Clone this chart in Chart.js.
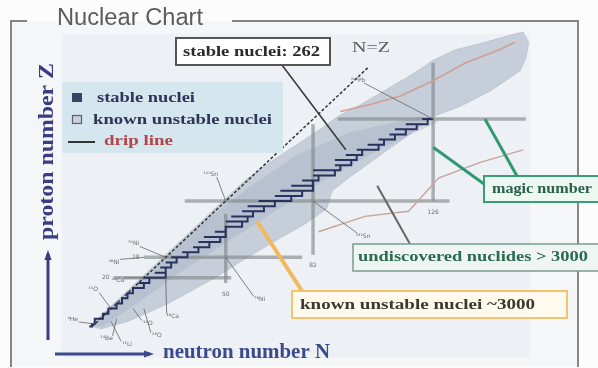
<!DOCTYPE html>
<html>
<head>
<meta charset="utf-8">
<script src="https://cdn.jsdelivr.net/npm/chart.js@4/dist/chart.umd.min.js"></script>
<style>
  html,body{margin:0;padding:0;background:#fff}
  #wrap{width:598px;height:368px}
</style>
</head>
<body>
<div id="wrap"><canvas id="chart" width="598" height="368"></canvas></div>
<script>
// outline of the known nuclei: proton-rich edge going up, then neutron-rich edge coming back (N, Z)
const knownN = [0, 9, 21, 33, 45, 57, 66, 76, 86, 91, 100, 108, 116, 122, 126, 134, 145, 155, 159,
                161, 160, 158, 147, 136, 126, 122, 116, 108, 95, 89, 87, 79, 69, 58, 46, 29, 14, 4];
const knownZ = [1, 10, 22, 34, 46, 58, 65, 72, 79, 83, 88, 93, 98, 102, 105, 109, 112, 115, 116,
                112, 106, 101, 93, 87, 83, 80, 75, 69, 59, 54, 47, 41, 35, 28, 20, 10, 3, 0];

// denser core of the band around the valley of stability
const coreN = [1, 20, 40, 58, 76, 96, 122, 128, 106, 86, 68, 52, 36, 20, 5];
const coreZ = [1, 20, 40, 55, 68, 77, 83, 81, 70, 58, 46, 35, 24, 12, 1];

// valley of stability: lightest and heaviest stable isotope for each Z
const stableZ    = [1, 2, 4, 6, 8, 10, 12, 14, 16, 18, 20, 22, 24, 26, 28, 30, 32, 34, 36, 38, 40, 42, 44, 46, 48, 50, 52, 54, 56, 58, 60, 62, 64, 66, 68, 70, 72, 74, 76, 78, 80, 82];
const stableNmin = [0, 1, 5, 6, 8, 10, 12, 14, 16, 18, 20, 24, 26, 28, 30, 34, 38, 40, 42, 46, 50, 50, 52, 56, 58, 62, 68, 70, 74, 78, 82, 82, 90, 90, 94, 98, 102, 106, 110, 112, 116, 122];
const stableNmax = [1, 2, 5, 7, 10, 12, 14, 16, 20, 22, 28, 28, 30, 32, 36, 40, 44, 48, 50, 50, 56, 58, 60, 64, 68, 74, 78, 82, 82, 84, 90, 92, 96, 98, 100, 106, 108, 112, 116, 120, 124, 126];
const stableCount = 262;

// magic numbers: vertical lines at N, horizontal lines at Z, with their extent
const magicN     = [50, 82, 126];
const magicNFrom = [18, 29, 50];
const magicNTo   = [45, 80, 104];
const magicZ     = [20, 28, 50, 82];
const magicZFrom = [9, 20, 35, 91];
const magicZTo   = [52, 78, 132, 160];

// drip lines
const pDripN = [92, 104, 114, 126, 138, 150, 156];
const pDripZ = [85, 88, 91, 97, 104, 109, 112];
const nDripN = [84, 101, 117, 128, 143, 159];
const nDripZ = [38, 44, 46, 59, 65, 70];

// N = Z reference line
const nzFrom = 1, nzTo = 102;

// a few landmark nuclides
const nuclideNames = ['⁴He', '¹¹Li', '¹⁴Be', '¹⁶O', '²⁴O', '²⁸O', '⁴⁰Ca', '⁴⁸Ca', '⁴⁸Ni', '⁵⁶Ni', '⁷⁸Ni', '¹⁰⁰Sn', '¹³²Sn', '²⁰⁸Pb'];
const nuclideN     = [2, 8, 10, 8, 16, 20, 20, 28, 20, 28, 50, 50, 82, 126];
const nuclideZ     = [2, 3, 4, 8, 8, 8, 20, 20, 28, 28, 28, 50, 50, 82];

const pts = (xs, ys) => xs.map((x, i) => ({x: x, y: ys[i]}));

function stairs(){
  const out = [];
  stableZ.forEach((z, i) => {
    out.push({x: stableNmin[i], y: z});
    out.push({x: stableNmax[i], y: z});
  });
  return out;
}

const MAGIC = 'rgba(128,136,136,0.62)';
const datasets = [];
datasets.push({data: stairs(), borderColor: '#29325e', borderWidth: 2, stepped: 'after', order: 1});
datasets.push({data: [{x: nzFrom, y: nzFrom}, {x: nzTo, y: nzTo}], borderColor: '#333333', borderWidth: 1.5, borderDash: [3, 2], order: 2});
datasets.push({data: pts(pDripN, pDripZ), borderColor: '#cf9f92', borderWidth: 1.6, order: 3});
datasets.push({data: pts(nDripN, nDripZ), borderColor: '#c9a49a', borderWidth: 1.4, order: 3});
magicN.forEach((n, i) => datasets.push({data: [{x: n, y: magicNFrom[i]}, {x: n, y: magicNTo[i]}], borderColor: MAGIC, borderWidth: 3.5, order: 5}));
magicZ.forEach((z, i) => datasets.push({data: [{x: magicZFrom[i], y: z}, {x: magicZTo[i], y: z}], borderColor: MAGIC, borderWidth: 3.5, order: 5}));
datasets.push({data: pts(coreN, coreZ), fill: 'shape', backgroundColor: 'rgba(150,163,184,0.3)', borderColor: 'rgba(0,0,0,0)', borderWidth: 0, order: 8});
datasets.push({data: pts(knownN, knownZ), fill: 'shape', backgroundColor: 'rgba(175,186,200,0.62)', borderColor: 'rgba(175,186,200,0.62)', borderWidth: 1, order: 9});
datasets.forEach(d => { d.showLine = true; d.pointRadius = 0; d.tension = 0; if(d.fill === undefined) d.fill = false; });

const SERIF = '"Liberation Serif", "DejaVu Serif", serif';

function line(c, x1, y1, x2, y2, col, w){
  c.strokeStyle = col; c.lineWidth = w;
  c.beginPath(); c.moveTo(x1, y1); c.lineTo(x2, y2); c.stroke();
}
function box(c, x, y, w, h, fill, stroke, lw){
  c.fillStyle = fill; c.fillRect(x, y, w, h);
  c.strokeStyle = stroke; c.lineWidth = lw; c.strokeRect(x, y, w, h);
}
// text stretched to a given width, left aligned, vertically centred on y
function fitText(c, text, x, y, width){
  const w = c.measureText(text).width;
  c.save();
  c.translate(x, y);
  c.scale(width / w, 1);
  c.textAlign = 'left'; c.textBaseline = 'middle';
  c.fillText(text, 0, 0);
  c.restore();
}
function arrow(c, x1, y1, x2, y2, col){
  line(c, x1, y1, x2, y2, col, 3);
  const a = Math.atan2(y2 - y1, x2 - x1);
  c.fillStyle = col;
  c.beginPath();
  c.moveTo(x2 + Math.cos(a) * 4, y2 + Math.sin(a) * 4);
  c.lineTo(x2 + Math.cos(a + 2.6) * 7, y2 + Math.sin(a + 2.6) * 7);
  c.lineTo(x2 + Math.cos(a - 2.6) * 7, y2 + Math.sin(a - 2.6) * 7);
  c.closePath(); c.fill();
}

const decor = {
  id: 'decor',
  beforeDraw(chart){
    const c = chart.ctx;
    c.save();
    c.fillStyle = '#fcfcfd'; c.fillRect(0, 0, 598, 368);
    c.fillStyle = '#f5f6f8'; c.fillRect(12, 21, 566, 345);
    c.fillStyle = '#edf0f4'; c.fillRect(62, 34, 468, 324);
    c.strokeStyle = '#858585'; c.lineWidth = 2;
    c.beginPath();
    c.moveTo(27, 21); c.lineTo(11, 21); c.lineTo(11, 367); c.moveTo(578, 367); c.lineTo(578, 21); c.lineTo(232, 21);
    c.stroke();
    c.font = '23px "Liberation Sans", Arial, sans-serif';
    c.fillStyle = '#5c5c5c';
    fitText(c, 'Nuclear Chart', 57, 19, 146);
    c.restore();
  },
  afterDatasetsDraw(chart){
    const c = chart.ctx, xs = chart.scales.x, ys = chart.scales.y;
    const X = n => xs.getPixelForValue(n), Y = z => ys.getPixelForValue(z);
    c.save();
    c.lineCap = 'butt';

    // landmark nuclide tags
    const tagAt = [[-22,-5],[16,23],[-10,20],[-18,-19],[15,15],[13,27],[-26,3],[7,39],[-30,5],[-32,-14],[34,42],[-15,-27],[50,35],[-75,-39]];
    c.font = '6px "DejaVu Sans", sans-serif';
    c.textAlign = 'center'; c.textBaseline = 'middle';
    nuclideNames.forEach((name, i) => {
      const x = X(nuclideN[i]), y = Y(nuclideZ[i]);
      const tx = x + tagAt[i][0], ty = y + tagAt[i][1];
      line(c, x, y, tx + (x > tx ? 6 : -6), ty + (y > ty ? 3 : -3), 'rgba(100,100,100,0.8)', 1);
      c.fillStyle = '#6a6a6a';
      c.fillText(name, tx, ty);
    });
    // magic number values at the ends of the lines
    magicN.forEach((n, i) => { c.fillStyle = '#707070'; c.fillText(String(n), X(n), Y(magicNFrom[i]) + 11); });
    magicZ.slice(0, 2).forEach((z, i) => { c.fillStyle = '#707070'; c.fillText(String(z), X(magicZFrom[i]) - 8, Y(z)); });

    // stable nuclei callout
    line(c, 282, 65, X(94), Y(70), '#3c3c3c', 1.6);
    box(c, 176, 38, 154, 27, '#ffffff', '#555555', 2);
    c.font = 'bold 14px ' + SERIF;
    c.fillStyle = '#2a2a2a';
    fitText(c, 'stable nuclei: ' + stableCount, 183, 52, 137);

    c.font = '14px ' + SERIF;
    c.fillStyle = '#5a5a5a';
    fitText(c, 'N=Z', 352, 48, 38);

    // magic number callout
    line(c, X(126), Y(71), 484, 184, '#2f9a72', 3);
    line(c, X(145), Y(82), 517, 176, '#2f9a72', 3);
    box(c, 484, 176, 120, 26, '#eef8f3', '#3a9c78', 2);
    c.fillStyle = '#2a5f48';
    c.font = 'bold 14px ' + SERIF;
    fitText(c, 'magic number', 492, 189, 100);

    // undiscovered callout
    line(c, X(105.5), Y(56), 410, 244, '#666666', 2);
    box(c, 353, 244, 246, 27, '#eef5f2', '#7a9a90', 1.5);
    c.fillStyle = '#2c6a52';
    fitText(c, 'undiscovered nuclides > 3000', 358, 257, 230);

    // known unstable callout
    line(c, X(61.5), Y(42), 302, 291, '#f2b95c', 4);
    box(c, 292, 291, 275, 27, '#fff9ee', '#f4c46c', 2);
    c.fillStyle = '#3a3a32';
    fitText(c, 'known unstable nuclei ~3000', 300, 305, 235);

    // legend
    c.fillStyle = '#d5e6ef'; c.fillRect(62, 82, 221, 71);
    c.fillStyle = '#394560'; c.fillRect(72, 93, 10, 9);
    box(c, 72.5, 115.5, 9, 8, '#c9d0d8', '#5a6070', 1.2);
    line(c, 68, 142, 95, 142, '#333333', 2);
    c.font = 'bold 15px ' + SERIF;
    c.fillStyle = '#2e3558';
    fitText(c, 'stable nuclei', 97, 98, 98);
    fitText(c, 'known unstable nuclei', 93, 120, 179);
    c.fillStyle = '#b0484a';
    fitText(c, 'drip line', 104, 141, 69);

    // axis titles
    arrow(c, 48, 340, 48, 254, '#3b3f80');
    arrow(c, 55, 354, 150, 354, '#3b4a8c');
    c.font = 'bold 21px ' + SERIF;
    c.fillStyle = '#3b4a8c';
    fitText(c, 'neutron number N', 163, 353, 167);
    c.translate(47, 240);
    c.rotate(-Math.PI / 2);
    c.fillStyle = '#3a3c85';
    c.font = 'bold 22px ' + SERIF;
    fitText(c, 'proton number Z', 0, 0, 177);
    c.restore();
  }
};

new Chart(document.getElementById('chart').getContext('2d'), {
  type: 'scatter',
  data: {datasets: datasets},
  options: {
    responsive: false,
    animation: false,
    events: [],
    layout: {padding: {left: 62, right: 68, top: 30, bottom: 10}},
    scales: {
      x: {type: 'linear', min: -10, max: 161.5, display: false},
      y: {type: 'linear', min: -11.3, max: 116.8, display: false}
    },
    plugins: {legend: {display: false}, tooltip: {enabled: false}}
  },
  plugins: [decor]
});
</script>
</body>
</html>
